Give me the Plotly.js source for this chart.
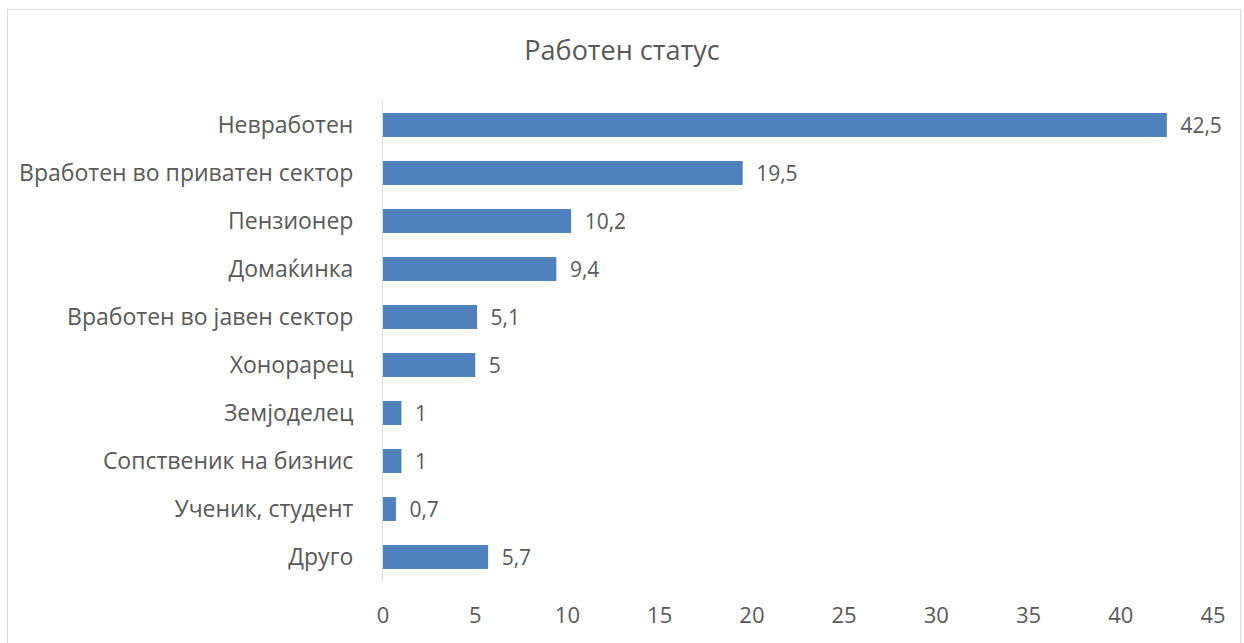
<!DOCTYPE html>
<html>
<head>
<meta charset="utf-8">
<script src="https://cdn.plot.ly/plotly-3.0.1.min.js"></script>
<style>
    body { margin: 0; background: #fff; }
    #chart { width: 1244px; height: 643px; }
    #frame {
        position: absolute; left: 7px; top: 9px; width: 1232px; height: 700px;
        border: 1px solid #d9d9d9; pointer-events: none;
    }
</style>
</head>
<body>
<div id="chart"></div>
<div id="frame"></div>
<script>
// categories top to bottom, as in the picture
const categories = [
    'Невработен',
    'Вработен во приватен сектор',
    'Пензионер',
    'Домаќинка',
    'Вработен во јавен сектор',
    'Хонорарец',
    'Земјоделец',
    'Сопственик на бизнис',
    'Ученик, студент',
    'Друго'
];
const values = [42.5, 19.5, 10.2, 9.4, 5.1, 5, 1, 1, 0.7, 5.7];
const xTicks = [0, 5, 10, 15, 20, 25, 30, 35, 40, 45];

const textColor = '#595959';
const fontFamily = '"Open Sans", "Noto Sans", sans-serif';

let data = [
    {
        type: 'bar',
        orientation: 'h',
        x: values,
        y: categories,
        marker: {
            color: '#4f81bd'
        },
        // en space keeps the gap between bar end and label
        texttemplate: '\u2002%{x}',
        textposition: 'outside',
        constraintext: 'none',
        cliponaxis: false,
        textfont: { color: textColor, size: 21, family: fontFamily },
        hoverinfo: 'none'
    }
];

let layout = {
    showlegend: false,
    title: {
        text: 'Работен статус',
        font: { size: 27, color: textColor, family: fontFamily },
        x: 0.5,
        xanchor: 'center',
        y: 0.922,
        yanchor: 'middle'
    },
    separators: ', ',
    bargap: 0.5,
    margin: { l: 383, r: 31, t: 101, b: 62 },
    xaxis: {
        range: [0, 45],
        tickvals: xTicks,
        showgrid: false,
        zeroline: false,
        showline: false,
        ticks: '',
        ticklabelstandoff: 19,
        tickfont: { size: 22, color: textColor, family: fontFamily }
    },
    yaxis: {
        autorange: 'reversed',
        showgrid: false,
        zeroline: false,
        showline: true,
        linecolor: '#d9d9d9',
        linewidth: 1,
        ticks: '',
        ticklabelstandoff: 24,
        tickfont: { size: 23, color: textColor, family: fontFamily }
    },
    paper_bgcolor: '#ffffff',
    plot_bgcolor: '#ffffff',
    font: { family: fontFamily, color: textColor }
};

Plotly.newPlot('chart', data, layout, { displayModeBar: false, staticPlot: true });
</script>
</body>
</html>
